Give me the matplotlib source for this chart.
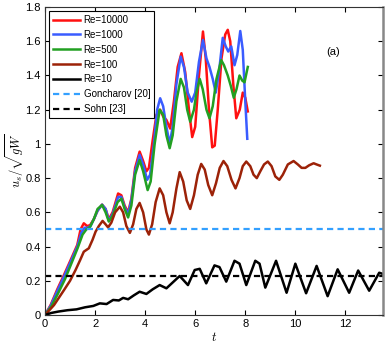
import matplotlib
matplotlib.use("Agg")
import matplotlib.pyplot as plt

plt.rcParams['font.family'] = ['Liberation Sans', 'DejaVu Sans']
plt.rcParams['mathtext.fontset'] = 'cm'

# Re=10000
t_red = [0, 0.23, 0.49, 0.76, 1.02, 1.29, 1.42, 1.55, 1.68, 1.8, 1.95, 2.1, 2.28, 2.42, 2.55,
         2.7, 2.92, 3.05, 3.18, 3.32, 3.45, 3.6, 3.78, 3.92, 4.05, 4.15, 4.3, 4.45, 4.6, 4.72,
         4.85, 5.0, 5.15, 5.3, 5.45, 5.6, 5.75, 5.88, 6.0, 6.15, 6.31, 6.42, 6.55, 6.68, 6.78,
         6.9, 7.05, 7.2, 7.3, 7.4, 7.52, 7.64, 7.78, 7.9, 8.0, 8.1]
y_red = [0, 0.06, 0.15, 0.235, 0.32, 0.41, 0.5, 0.536, 0.52, 0.525, 0.56, 0.61, 0.645, 0.62, 0.56,
         0.6, 0.71, 0.7, 0.64, 0.6, 0.68, 0.86, 0.955, 0.9, 0.84, 0.86, 1.02, 1.17, 1.2, 1.16,
         1.14, 1.09, 1.25, 1.45, 1.53, 1.42, 1.2, 1.04, 1.1, 1.4, 1.657, 1.5, 1.2, 0.98, 0.99,
         1.2, 1.5, 1.64, 1.667, 1.6, 1.35, 1.15, 1.2, 1.3, 1.27, 1.19]

# Re=1000
t_blue = [0, 0.23, 0.49, 0.76, 1.02, 1.29, 1.45, 1.58, 1.7, 1.82, 1.95, 2.1, 2.28, 2.42, 2.55,
          2.7, 2.92, 3.05, 3.18, 3.32, 3.45, 3.6, 3.78, 3.92, 4.08, 4.2, 4.35, 4.48, 4.6, 4.72,
          4.85, 4.98, 5.1, 5.25, 5.42, 5.55, 5.7, 5.86, 6.0, 6.15, 6.31, 6.45, 6.57, 6.7, 6.82,
          6.95, 7.1, 7.22, 7.32, 7.44, 7.57, 7.68, 7.8, 7.9, 8.0, 8.08]
y_blue = [0, 0.055, 0.14, 0.225, 0.31, 0.4, 0.48, 0.51, 0.51, 0.52, 0.56, 0.61, 0.645, 0.62, 0.55,
          0.59, 0.69, 0.69, 0.63, 0.59, 0.67, 0.84, 0.936, 0.88, 0.79, 0.82, 1.0, 1.2, 1.267, 1.22,
          1.1, 1.0, 1.1, 1.35, 1.51, 1.45, 1.3, 1.247, 1.3, 1.48, 1.608, 1.5, 1.45, 1.38, 1.3,
          1.42, 1.62, 1.57, 1.54, 1.57, 1.46, 1.52, 1.66, 1.55, 1.25, 1.03]

# Re=500
t_green = [0, 0.25, 0.5, 0.8, 1.05, 1.3, 1.5, 1.65, 1.8, 1.95, 2.1, 2.28, 2.42, 2.55, 2.7, 2.9,
           3.05, 3.18, 3.32, 3.45, 3.6, 3.78, 3.92, 4.1, 4.22, 4.38, 4.58, 4.72, 4.85, 4.98, 5.1,
           5.25, 5.42, 5.55, 5.68, 5.8, 5.95, 6.05, 6.18, 6.3, 6.45, 6.57, 6.7, 6.85, 7.04, 7.15,
           7.3, 7.42, 7.54, 7.65, 7.77, 7.88, 7.97, 8.1]
y_green = [0, 0.05, 0.12, 0.21, 0.3, 0.39, 0.47, 0.5, 0.515, 0.56, 0.62, 0.643, 0.6, 0.546, 0.58,
           0.66, 0.68, 0.62, 0.57, 0.64, 0.82, 0.906, 0.84, 0.73, 0.78, 1.0, 1.2, 1.17, 1.05,
           0.975, 1.05, 1.25, 1.38, 1.33, 1.2, 1.13, 1.2, 1.3, 1.38, 1.32, 1.2, 1.15, 1.22, 1.38,
           1.49, 1.46, 1.40, 1.34, 1.27, 1.32, 1.40, 1.37, 1.36, 1.45]

# Re=100
t_brown = [0, 0.36, 0.76, 1.0, 1.22, 1.4, 1.55, 1.75, 1.9, 2.02, 2.15, 2.3, 2.42, 2.52, 2.65, 2.8,
           2.99, 3.12, 3.25, 3.39, 3.52, 3.65, 3.78, 3.92, 4.05, 4.15, 4.28, 4.42, 4.58, 4.72,
           4.85, 4.98, 5.1, 5.25, 5.38, 5.52, 5.66, 5.8, 5.95, 6.1, 6.24, 6.38, 6.52, 6.68, 6.83,
           6.98, 7.13, 7.28, 7.45, 7.61, 7.77, 7.9, 8.04, 8.2, 8.33, 8.46, 8.6, 8.75, 8.9, 9.05,
           9.2, 9.36, 9.5, 9.7, 9.93, 10.1, 10.25, 10.4, 10.55, 10.73, 10.85, 10.98]
y_brown = [0, 0.058, 0.146, 0.2, 0.263, 0.32, 0.37, 0.39, 0.44, 0.487, 0.52, 0.55, 0.53, 0.512,
           0.54, 0.6, 0.633, 0.6, 0.52, 0.48, 0.53, 0.62, 0.655, 0.6, 0.5, 0.47, 0.53, 0.66,
           0.74, 0.7, 0.6, 0.536, 0.6, 0.74, 0.835, 0.78, 0.67, 0.62, 0.7, 0.82, 0.883, 0.85,
           0.76, 0.7, 0.77, 0.86, 0.9, 0.87, 0.79, 0.74, 0.8, 0.87, 0.897, 0.87, 0.82, 0.8, 0.84,
           0.88, 0.897, 0.87, 0.81, 0.79, 0.82, 0.88, 0.9, 0.88, 0.86, 0.86, 0.875, 0.887, 0.88,
           0.873]

# Re=10
t_black = [0, 0.25, 0.53, 0.9, 1.26, 1.6, 1.93, 2.19, 2.46, 2.72, 2.95, 3.12, 3.32, 3.55, 3.78,
           4.05, 4.3, 4.58, 4.85, 5.1, 5.38, 5.71, 5.98, 6.18, 6.44, 6.77, 6.97, 7.24, 7.57,
           7.77, 8.04, 8.4, 8.57, 8.8, 9.23, 9.65, 10.0, 10.43, 10.85, 11.29, 11.69, 12.15,
           12.51, 12.95, 13.35, 13.5]
y_black = [0, 0.012, 0.02, 0.028, 0.033, 0.045, 0.053, 0.068, 0.064, 0.088, 0.085, 0.10, 0.092,
           0.115, 0.136, 0.123, 0.15, 0.175, 0.156, 0.19, 0.228, 0.175, 0.263, 0.27, 0.185,
           0.29, 0.28, 0.195, 0.317, 0.30, 0.175, 0.317, 0.30, 0.16, 0.317, 0.13, 0.30, 0.127,
           0.287, 0.11, 0.267, 0.13, 0.26, 0.142, 0.247, 0.24]

goncharov = 0.5
sohn = 0.23

x_ticks = [0, 2, 4, 6, 8, 10, 12]
y_ticks = [0, 0.2, 0.4, 0.6, 0.8, 1, 1.2, 1.4, 1.6, 1.8]

fig = plt.figure(figsize=(3.88, 3.46), dpi=100)
ax = fig.add_axes([0.116, 0.0896, 0.871, 0.89])

lw = 1.8
ax.plot(t_red, y_red, color='#ff1010', lw=lw, label='Re=10000')
ax.plot(t_blue, y_blue, color='#3a5cff', lw=lw, label='Re=1000')
ax.plot(t_green, y_green, color='#22a022', lw=lw, label='Re=500')
ax.plot(t_brown, y_brown, color='#9c2208', lw=lw, label='Re=100')
ax.plot(t_black, y_black, color='black', lw=lw, label='Re=10')
ax.axhline(goncharov, color='#33a0ff', lw=1.6, ls=(0, (2.8, 1.9)), label='Goncharov [20]')
ax.axhline(sohn, color='black', lw=1.6, ls=(0, (2.8, 1.9)), label='Sohn [23]')

ax.set_xlim(0, 13.5)
ax.set_ylim(0, 1.8)
ax.set_xticks(x_ticks)
ax.set_xticklabels([f'{v:g}' for v in x_ticks])
ax.set_yticks(y_ticks)
ax.set_yticklabels([f'{v:g}' for v in y_ticks])
ax.tick_params(direction='in', top=True, right=True, length=3.5, labelsize=8, pad=3)

for s in ax.spines.values():
    s.set_color('#333333')
    s.set_linewidth(0.8)
ax.spines['right'].set_color('#888888')
ax.spines['right'].set_linewidth(1.8)

ax.set_xlabel('$t$', fontsize=9, labelpad=1)
ax.set_ylabel(r'$u_s/\sqrt{gW}$', fontsize=9)
ax.yaxis.set_label_coords(-0.055, 0.5)

ax.text(11.5, 1.535, '(a)', fontsize=8, ha='center', va='center')

leg = ax.legend(loc='upper left', bbox_to_anchor=(0.012, 0.987), borderaxespad=0,
                fontsize=7, handlelength=2.8, labelspacing=0.5, fancybox=False,
                framealpha=1, edgecolor='black', borderpad=0.4, handletextpad=0.35)
leg.get_frame().set_linewidth(0.8)

fig.savefig('out.png', dpi=100)
